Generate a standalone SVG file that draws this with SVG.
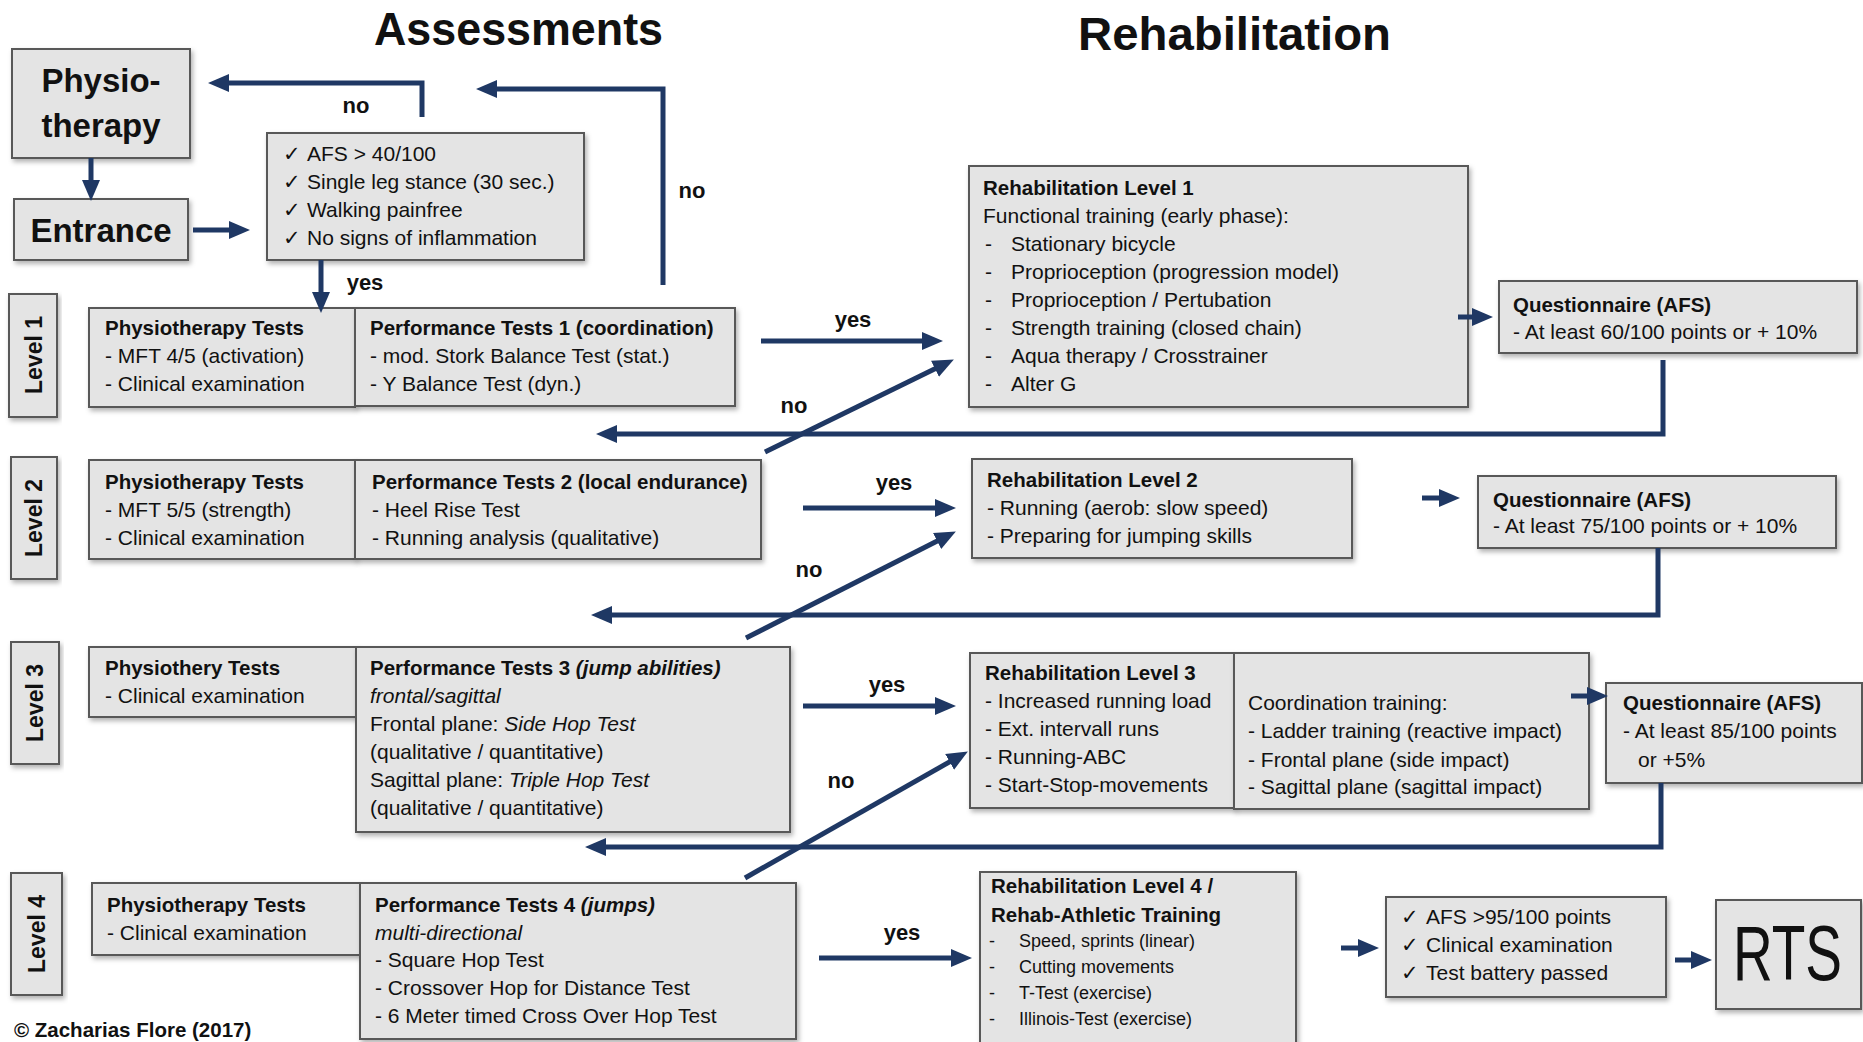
<svg xmlns="http://www.w3.org/2000/svg" width="1863" height="1042" viewBox="0 0 1863 1042">
<defs>
<filter id="sh" x="-10%" y="-10%" width="120%" height="130%">
<feDropShadow dx="2" dy="3" stdDeviation="2.5" flood-color="#000" flood-opacity="0.3"/>
</filter>
<marker id="ah" markerUnits="userSpaceOnUse" markerWidth="22" markerHeight="20" refX="4" refY="10" orient="auto" viewBox="0 0 22 20">
<path d="M0,1 L21,10 L0,19 z" fill="#1f3864"/>
</marker>
<style>
.box{fill:#e4e4e4;stroke:#595959;stroke-width:2;filter:url(#sh)}
text{font-family:"Liberation Sans","DejaVu Sans",sans-serif;fill:#111}
.t{font-size:21px}
.b{font-size:20.5px;font-weight:bold}
.i{font-style:italic}
.s{font-size:18px}
.lbl{font-size:22px;font-weight:bold}
.lvl{font-size:23px;font-weight:bold}
.big{font-size:33px;font-weight:bold}
.title{font-size:46px;font-weight:bold}
.conn path{stroke:#1f3864;stroke-width:5;fill:none;marker-end:url(#ah)}
</style>
</defs>
<rect width="1863" height="1042" fill="#fff"/>

<text class="title" x="374" y="45" textLength="289" lengthAdjust="spacingAndGlyphs">Assessments</text>
<text class="title" x="1078" y="50" textLength="313" lengthAdjust="spacingAndGlyphs">Rehabilitation</text>

<g id="physiotherapy">
<rect class="box" x="12" y="49" width="178" height="109"/>
<text class="big" x="101" y="92" text-anchor="middle">Physio-</text>
<text class="big" x="101" y="137" text-anchor="middle">therapy</text>
</g>
<g id="entrance">
<rect class="box" x="14" y="199" width="174" height="61"/>
<text class="big" x="101" y="242" text-anchor="middle">Entrance</text>
</g>
<g id="entrance-criteria">
<rect class="box" x="267" y="133" width="317" height="127"/>
<text class="t"><tspan x="283" y="161">✓</tspan><tspan x="307" y="161">AFS &gt; 40/100</tspan></text>
<text class="t"><tspan x="283" y="189">✓</tspan><tspan x="307" y="189">Single leg stance (30 sec.)</tspan></text>
<text class="t"><tspan x="283" y="217">✓</tspan><tspan x="307" y="217">Walking painfree</tspan></text>
<text class="t"><tspan x="283" y="245">✓</tspan><tspan x="307" y="245">No signs of inflammation</tspan></text>
</g>

<g id="level1-label">
<rect class="box" x="9" y="294" width="48" height="123"/>
<text class="lvl" x="42" y="355" text-anchor="middle" transform="rotate(-90 42 355)">Level 1</text>
</g>
<g id="level2-label">
<rect class="box" x="11" y="457" width="46" height="122"/>
<text class="lvl" x="42" y="518" text-anchor="middle" transform="rotate(-90 42 518)">Level 2</text>
</g>
<g id="level3-label">
<rect class="box" x="11" y="642" width="48" height="122"/>
<text class="lvl" x="43" y="703" text-anchor="middle" transform="rotate(-90 43 703)">Level 3</text>
</g>
<g id="level4-label">
<rect class="box" x="11" y="873" width="51" height="122"/>
<text class="lvl" x="45" y="934" text-anchor="middle" transform="rotate(-90 45 934)">Level 4</text>
</g>

<g id="physio-tests-1">
<rect class="box" x="89" y="308" width="266" height="99"/>
<text class="b" x="105" y="335">Physiotherapy Tests</text>
<text class="t" x="105" y="363">- MFT 4/5 (activation)</text>
<text class="t" x="105" y="391">- Clinical examination</text>
</g>
<g id="performance-tests-1">
<rect class="box" x="355" y="308" width="380" height="98"/>
<text class="b" x="370" y="335">Performance Tests 1 (coordination)</text>
<text class="t" x="370" y="363">- mod.  Stork Balance Test (stat.)</text>
<text class="t" x="370" y="391">- Y Balance Test (dyn.)</text>
</g>
<g id="physio-tests-2">
<rect class="box" x="89" y="460" width="266" height="99"/>
<text class="b" x="105" y="489">Physiotherapy Tests</text>
<text class="t" x="105" y="517">- MFT 5/5 (strength)</text>
<text class="t" x="105" y="545">- Clinical examination</text>
</g>
<g id="performance-tests-2">
<rect class="box" x="355" y="460" width="406" height="99"/>
<text class="b" x="372" y="489">Performance Tests 2 (local endurance)</text>
<text class="t" x="372" y="517">- Heel Rise Test</text>
<text class="t" x="372" y="545">- Running analysis (qualitative)</text>
</g>
<g id="physio-tests-3">
<rect class="box" x="89" y="647" width="267" height="70"/>
<text class="b" x="105" y="675">Physiothery Tests</text>
<text class="t" x="105" y="703">- Clinical examination</text>
</g>
<g id="performance-tests-3">
<rect class="box" x="356" y="647" width="434" height="185"/>
<text class="b" x="370" y="675">Performance Tests 3 <tspan class="i">(jump abilities)</tspan></text>
<text class="t i" x="370" y="703">frontal/sagittal</text>
<text class="t" x="370" y="731">Frontal plane: <tspan class="i">Side Hop Test</tspan></text>
<text class="t" x="370" y="759">(qualitative / quantitative)</text>
<text class="t" x="370" y="787">Sagittal plane: <tspan class="i">Triple Hop Test</tspan></text>
<text class="t" x="370" y="815">(qualitative / quantitative)</text>
</g>
<g id="physio-tests-4">
<rect class="box" x="92" y="883" width="268" height="72"/>
<text class="b" x="107" y="912">Physiotherapy Tests</text>
<text class="t" x="107" y="940">- Clinical examination</text>
</g>
<g id="performance-tests-4">
<rect class="box" x="360" y="883" width="436" height="156"/>
<text class="b" x="375" y="912">Performance Tests 4 <tspan class="i">(jumps)</tspan></text>
<text class="t i" x="375" y="940">multi-directional</text>
<text class="t" x="375" y="967">- Square Hop Test</text>
<text class="t" x="375" y="995">- Crossover Hop for Distance Test</text>
<text class="t" x="375" y="1023">- 6 Meter timed Cross Over Hop Test</text>
</g>

<g id="rehab-level-1">
<rect class="box" x="969" y="166" width="499" height="241"/>
<text class="b" x="983" y="195">Rehabilitation Level 1</text>
<text class="t" x="983" y="223">Functional training (early phase):</text>
<text class="t"><tspan x="985" y="251">-</tspan><tspan x="1011" y="251">Stationary bicycle</tspan></text>
<text class="t"><tspan x="985" y="279">-</tspan><tspan x="1011" y="279">Proprioception  (progression model)</tspan></text>
<text class="t"><tspan x="985" y="307">-</tspan><tspan x="1011" y="307">Proprioception  / Pertubation</tspan></text>
<text class="t"><tspan x="985" y="335">-</tspan><tspan x="1011" y="335">Strength training (closed chain)</tspan></text>
<text class="t"><tspan x="985" y="363">-</tspan><tspan x="1011" y="363">Aqua therapy / Crosstrainer</tspan></text>
<text class="t"><tspan x="985" y="391">-</tspan><tspan x="1011" y="391">Alter G</tspan></text>
</g>
<g id="questionnaire-1">
<rect class="box" x="1499" y="281" width="358" height="72"/>
<text class="b" x="1513" y="312">Questionnaire (AFS)</text>
<text class="t" x="1513" y="339">- At least 60/100 points or + 10%</text>
</g>
<g id="rehab-level-2">
<rect class="box" x="972" y="459" width="380" height="99"/>
<text class="b" x="987" y="487">Rehabilitation Level 2</text>
<text class="t" x="987" y="515">- Running (aerob: slow speed)</text>
<text class="t" x="987" y="543">- Preparing for jumping skills</text>
</g>
<g id="questionnaire-2">
<rect class="box" x="1478" y="476" width="358" height="72"/>
<text class="b" x="1493" y="507">Questionnaire (AFS)</text>
<text class="t" x="1493" y="533">- At least 75/100 points or + 10%</text>
</g>
<g id="rehab-level-3">
<rect class="box" x="970" y="653" width="264" height="155"/>
<text class="b" x="985" y="680">Rehabilitation Level 3</text>
<text class="t" x="985" y="708">- Increased running load</text>
<text class="t" x="985" y="736">- Ext. intervall runs</text>
<text class="t" x="985" y="764">- Running-ABC</text>
<text class="t" x="985" y="792">- Start-Stop-movements</text>
</g>
<g id="coordination-training">
<rect class="box" x="1234" y="653" width="355" height="156"/>
<text class="t" x="1248" y="710">Coordination training:</text>
<text class="t" x="1248" y="738">- Ladder training (reactive impact)</text>
<text class="t" x="1248" y="767">- Frontal plane (side impact)</text>
<text class="t" x="1248" y="794">- Sagittal plane (sagittal impact)</text>
</g>
<g id="questionnaire-3">
<rect class="box" x="1606" y="683" width="256" height="100"/>
<text class="b" x="1623" y="710">Questionnaire (AFS)</text>
<text class="t" x="1623" y="738">- At least 85/100 points</text>
<text class="t" x="1638" y="767">or +5%</text>
</g>
<g id="rehab-level-4">
<rect class="box" x="980" y="872" width="316" height="175"/>
<text class="b" x="991" y="893">Rehabilitation Level 4 /</text>
<text class="b" x="991" y="922">Rehab-Athletic Training</text>
<text class="s"><tspan x="989" y="947">-</tspan><tspan x="1019" y="947">Speed, sprints (linear)</tspan></text>
<text class="s"><tspan x="989" y="973">-</tspan><tspan x="1019" y="973">Cutting movements</tspan></text>
<text class="s"><tspan x="989" y="999">-</tspan><tspan x="1019" y="999">T-Test (exercise)</tspan></text>
<text class="s"><tspan x="989" y="1025">-</tspan><tspan x="1019" y="1025">Illinois-Test  (exercise)</tspan></text>
</g>
<g id="rts-criteria">
<rect class="box" x="1386" y="897" width="280" height="100"/>
<text class="t"><tspan x="1401" y="924">✓</tspan><tspan x="1426" y="924">AFS &gt;95/100 points</tspan></text>
<text class="t"><tspan x="1401" y="952">✓</tspan><tspan x="1426" y="952">Clinical examination</tspan></text>
<text class="t"><tspan x="1401" y="980">✓</tspan><tspan x="1426" y="980">Test battery passed</tspan></text>
</g>
<g id="rts">
<rect class="box" x="1716" y="900" width="145" height="109"/>
<text x="0" y="0" font-size="55" transform="translate(1733 980) scale(1 1.4)">RTS</text>
</g>

<g class="conn" id="connectors">
<path d="M422,117 V83 H225"/>
<path d="M663,285 V89 H493"/>
<path d="M91,158 V184"/>
<path d="M193,230 H233"/>
<path d="M321,260 V296"/>
<path d="M761,341 H926"/>
<path d="M1663,360 V434 H613"/>
<path d="M765,452 L938.6,367"/>
<path d="M1458,317 H1476"/>
<path d="M803,508 H939"/>
<path d="M1422,498 H1443"/>
<path d="M1658,548 V615 H608"/>
<path d="M746,638 L940.7,539.2"/>
<path d="M803,706 H939"/>
<path d="M1571,696 H1591"/>
<path d="M1661,783 V847 H602"/>
<path d="M745,878 L953.1,759.9"/>
<path d="M819,958 H955"/>
<path d="M1341,948 H1362"/>
<path d="M1675,960 H1695"/>
</g>

<g id="connector-labels">
<text class="lbl" x="356" y="113" text-anchor="middle">no</text>
<text class="lbl" x="692" y="198" text-anchor="middle">no</text>
<text class="lbl" x="365" y="290" text-anchor="middle">yes</text>
<text class="lbl" x="853" y="327" text-anchor="middle">yes</text>
<text class="lbl" x="794" y="413" text-anchor="middle">no</text>
<text class="lbl" x="894" y="490" text-anchor="middle">yes</text>
<text class="lbl" x="809" y="577" text-anchor="middle">no</text>
<text class="lbl" x="887" y="692" text-anchor="middle">yes</text>
<text class="lbl" x="841" y="788" text-anchor="middle">no</text>
<text class="lbl" x="902" y="940" text-anchor="middle">yes</text>
</g>

<text x="14" y="1037" font-size="20.5" font-weight="bold">© Zacharias Flore (2017)</text>
</svg>
